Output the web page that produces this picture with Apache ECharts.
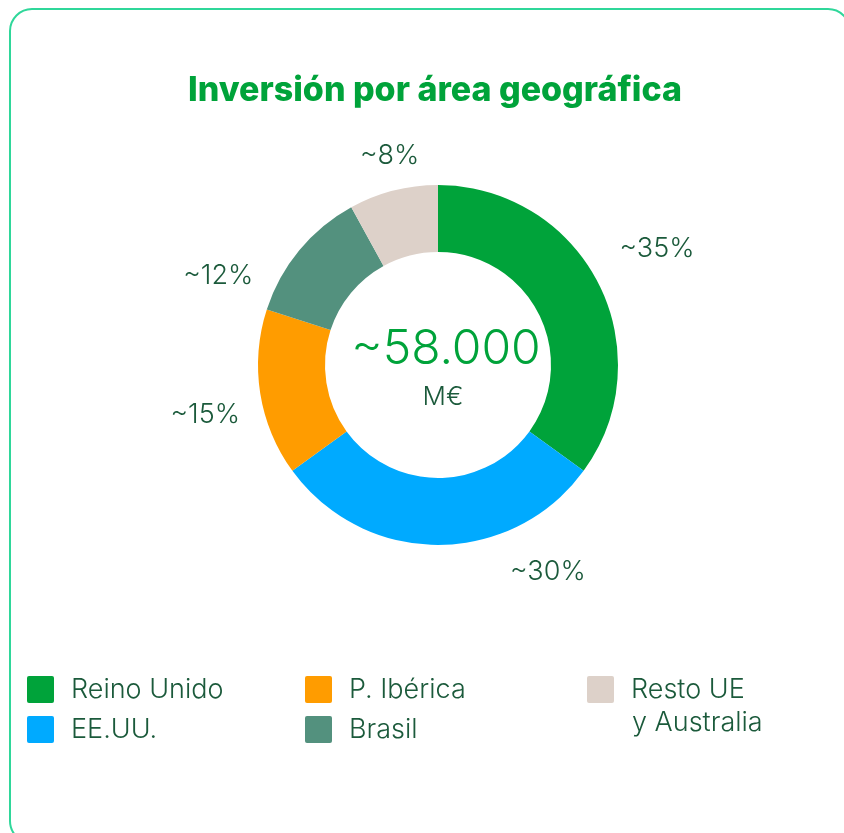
<!DOCTYPE html>
<html>
<head>
<meta charset="utf-8">
<script src="https://cdn.jsdelivr.net/npm/echarts@6/dist/echarts.min.js"></script>
<style>
  html, body { margin: 0; padding: 0; background: #fff; }
  #chart { width: 844px; height: 833px; }
</style>
</head>
<body>
<div id="chart"></div>
<script>
const regions = ['Reino Unido', 'EE.UU.', 'P. Ibérica', 'Brasil', 'Resto UE y Australia'];
const legendText = ['Reino Unido', 'EE.UU.', 'P. Ibérica', 'Brasil', 'Resto UE'];
const shares = [35, 30, 15, 12, 8];
const shareLabels = ['~35%', '~30%', '~15%', '~12%', '~8%'];
const colors = ['#00a33a', '#00aaff', '#ff9c00', '#53917e', '#ddd1c9'];
const totalText = '~58.000';
const unitText = 'M€';

// where each percentage sits around the ring (deg clockwise from top, px from centre)
const labelAngle = [62, 152, 258, 292, 347];
const labelDist = [248, 234, 238, 237, 215];

const cx = 438, cy = 365;
const darkGreen = '#1b5a3b';
const font = 'Inter, "Noto Sans", sans-serif';

const chart = echarts.init(document.getElementById('chart'));

function makeLegend(left, names) {
  return {
    orient: 'vertical',
    left: left,
    top: 676,
    padding: 0,
    icon: 'path://M2,0 L25,0 Q27,0 27,2 L27,25 Q27,27 25,27 L2,27 Q0,27 0,25 L0,2 Q0,0 2,0 Z',
    itemWidth: 27,
    itemHeight: 27,
    itemGap: 13,
    selectedMode: false,
    data: names,
    formatter: name => legendText[regions.indexOf(name)],
    textStyle: { color: darkGreen, fontSize: 27, fontWeight: 300, fontFamily: font, padding: [0, 0, 0, 12] }
  };
}

const option = {
  backgroundColor: '#fff',
  title: [
    {
      text: 'Inversión por área geográfica',
      left: 430,
      top: 69,
      textAlign: 'center',
      textStyle: { color: '#00a33a', fontSize: 34, fontWeight: 800, fontFamily: font }
    },
    {
      text: totalText,
      left: 441,
      top: 321,
      textAlign: 'center',
      textStyle: { color: '#00a33a', fontSize: 48, fontWeight: 300, fontFamily: font }
    },
    {
      text: unitText,
      left: 438,
      top: 379,
      textAlign: 'center',
      textStyle: { color: darkGreen, fontSize: 26, fontWeight: 300, fontFamily: font }
    }
  ],
  graphic: [
    {
      type: 'rect',
      shape: { x: 10, y: 9, width: 840, height: 834, r: 22 },
      style: { fill: 'none', stroke: '#2fd79a', lineWidth: 2 },
      z: -1
    },
    {
      type: 'text',
      left: 632,
      top: 709,
      style: { text: 'y Australia', fill: darkGreen, fontSize: 27, fontWeight: 300, fontFamily: font }
    }
  ],
  legend: [
    makeLegend(27, [regions[0], regions[1]]),
    makeLegend(305, [regions[2], regions[3]]),
    makeLegend(587, [regions[4]])
  ],
  series: [
    {
      type: 'pie',
      center: [cx, cy],
      radius: [113, 180],
      startAngle: 90,
      clockwise: true,
      silent: true,
      animation: false,
      label: {
        show: true,
        position: 'outside',
        color: darkGreen,
        fontSize: 27,
        fontWeight: 300,
        fontFamily: font,
        formatter: p => shareLabels[p.dataIndex]
      },
      labelLine: { show: false },
      labelLayout: function (params) {
        const a = labelAngle[params.dataIndex] * Math.PI / 180;
        const d = labelDist[params.dataIndex];
        return {
          x: cx + d * Math.sin(a),
          y: cy - d * Math.cos(a),
          align: 'center',
          verticalAlign: 'middle'
        };
      },
      data: regions.map((name, i) => ({
        name: name,
        value: shares[i],
        itemStyle: { color: colors[i] }
      }))
    }
  ]
};

chart.setOption(option);
</script>
</body>
</html>
